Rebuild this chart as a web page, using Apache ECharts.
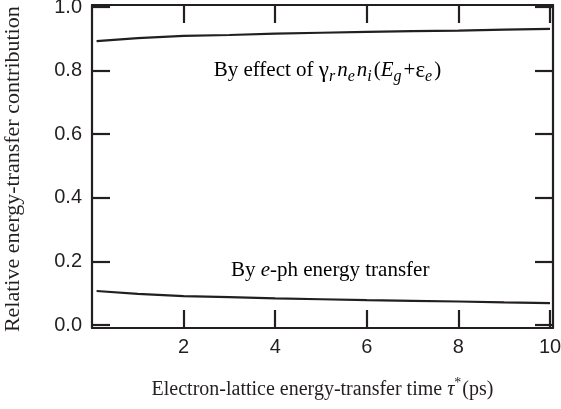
<!DOCTYPE html>
<html>
<head>
<meta charset="utf-8">
<script src="https://cdn.jsdelivr.net/npm/echarts@6/dist/echarts.min.js"></script>
<style>
  html, body { margin: 0; padding: 0; background: #fff; }
  #chart { width: 561px; height: 409px; }
</style>
</head>
<body>
<div id="chart"></div>
<script>
// Electron-lattice energy-transfer time tau* (ps)
const tau = [0.1, 1, 2, 3, 4, 5, 6, 7, 8, 9, 10];
// Contribution from the recombination term gamma_r n_e n_i (E_g + eps_e)
const recombShare = [0.893, 0.902, 0.909, 0.912, 0.916, 0.919, 0.922, 0.924, 0.926, 0.929, 0.931];
// Contribution from electron-phonon energy transfer
const ephShare = [0.107, 0.098, 0.091, 0.088, 0.084, 0.081, 0.078, 0.076, 0.074, 0.071, 0.069];
// Tick values
const xTicks = [2, 4, 6, 8, 10];
const yTicks = [0, 0.2, 0.4, 0.6, 0.8, 1.0];
const yTitle = 'Relative energy-transfer contribution';

const INK = '#231f20';
const SERIF = '"Liberation Serif", "Times New Roman", serif';
const SANS = '"Liberation Sans", Arial, sans-serif';

const chart = echarts.init(document.getElementById('chart'), null, { renderer: 'canvas' });

function richSet(size, subRatio, subGap) {
  const sub = Math.round(size * subRatio);
  return {
    t: { fontFamily: SERIF, fontSize: size, color: INK, lineHeight: size + 6 },
    g: { fontFamily: SERIF, fontSize: size + 2, color: INK, lineHeight: size + 6 },
    i: { fontFamily: SERIF, fontSize: size, fontStyle: 'italic', color: INK, lineHeight: size + 6 },
    sub: { fontFamily: SERIF, fontSize: sub, fontStyle: 'italic', color: INK, lineHeight: sub, padding: [Math.round(size * 0.55), subGap, 0, 0] },
    sup: { fontFamily: SERIF, fontSize: sub, color: INK, lineHeight: sub, padding: [0, subGap, Math.round(size * 0.65), 0] }
  };
}
const titleRich = richSet(20, 0.72, 1);
const noteRich = richSet(21, 0.78, 2);

function pairs(ys) { return tau.map((x, k) => [x, ys[k]]); }

const axisLine = { show: true, onZero: false, lineStyle: { color: INK, width: 2.2 } };
const tickStyle = { show: true, inside: true, length: 18, lineStyle: { color: INK, width: 2.2 } };

chart.setOption({
  animation: false,
  backgroundColor: '#fff',
  grid: { left: 92, top: 5, right: 8, bottom: 81, outerBoundsMode: 'none', containLabel: false },
  xAxis: [
    {
      type: 'value', position: 'bottom', min: 0, max: 10.065,
      axisLine, splitLine: { show: false },
      axisTick: Object.assign({}, tickStyle, { customValues: xTicks }),
      axisLabel: { customValues: xTicks, fontFamily: SANS, fontSize: 20, color: INK, margin: 9 },
      name: '{t|Electron-lattice energy-transfer time }{i|τ}{sup|*}{t|(ps)}',
      nameLocation: 'middle', nameGap: 49,
      nameTextStyle: { rich: titleRich }
    },
    {
      type: 'value', position: 'top', min: 0, max: 10.065,
      axisLine, splitLine: { show: false },
      axisTick: Object.assign({}, tickStyle, { customValues: xTicks }),
      axisLabel: { show: false }
    }
  ],
  yAxis: [
    {
      type: 'value', position: 'left', min: -0.0094, max: 1.0063,
      axisLine, splitLine: { show: false },
      axisTick: Object.assign({}, tickStyle, { customValues: yTicks }),
      axisLabel: { customValues: yTicks, formatter: v => v.toFixed(1), fontFamily: SANS, fontSize: 20, color: INK, margin: 10 }
    },
    {
      type: 'value', position: 'right', min: -0.0094, max: 1.0063,
      axisLine, splitLine: { show: false },
      axisTick: Object.assign({}, tickStyle, { customValues: yTicks }),
      axisLabel: { show: false }
    }
  ],
  series: [
    {
      type: 'line', name: 'recombination', data: pairs(recombShare),
      showSymbol: false, lineStyle: { color: INK, width: 2.2 }
    },
    {
      type: 'line', name: 'e-ph', data: pairs(ephShare),
      showSymbol: false, lineStyle: { color: INK, width: 2.2 }
    }
  ]
});

// Curve annotations anchored in data coordinates
const notes = [
  { at: [5.14, 0.80], text: '{t|By effect of }{g|γ}{sub|r}{i|n}{sub|e}{i|n}{sub|i}{t|(}{i|E}{sub|g}{t|+}{g|ε}{sub|e}{t|)}' },
  { at: [5.2, 0.17], text: '{t|By }{i|e}{t|-ph energy transfer}' }
];
const graphics = notes.map(n => {
  const p = chart.convertToPixel({ xAxisIndex: 0, yAxisIndex: 0 }, n.at);
  return {
    type: 'text', x: p[0], y: p[1], silent: true,
    style: { text: n.text, rich: noteRich, align: 'center', verticalAlign: 'middle' }
  };
});
// Vertical axis title, centred on the value range
const mid = chart.convertToPixel({ yAxisIndex: 0 }, 0.49);
graphics.push({
  type: 'text', x: 13, y: mid, rotation: Math.PI / 2, silent: true,
  style: { text: yTitle, fontFamily: SERIF, fontSize: 22, fill: INK, align: 'center', verticalAlign: 'middle' }
});
chart.setOption({ graphic: graphics });
</script>
</body>
</html>
